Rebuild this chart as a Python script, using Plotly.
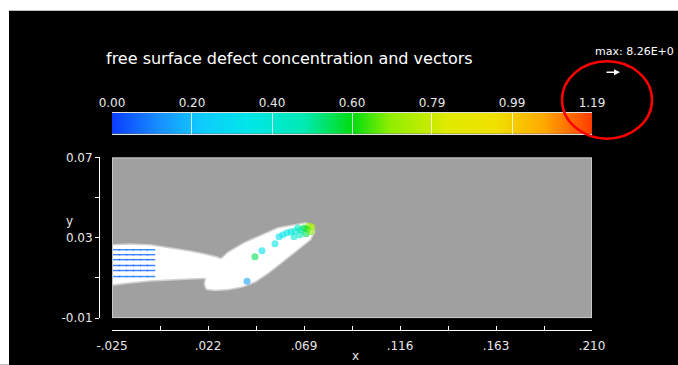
import numpy as np
import plotly.graph_objects as go

# ---------------- data ----------------
# colour scale / colorbar
cbar_min, cbar_max = 0.0, 1.19
cbar_tickvals = [0.0, 0.1983, 0.3967, 0.595, 0.7933, 0.9917, 1.19]
cbar_ticktext = ["0.00", "0.20", "0.40", "0.60", "0.79", "0.99", "1.19"]

# axes ticks
x_tickvals = [-0.025, -0.0015, 0.022, 0.0455, 0.069, 0.0925, 0.116, 0.1395, 0.163, 0.1865, 0.210]
x_ticktext = ["-.025", "", ".022", "", ".069", "", ".116", "", ".163", "", ".210"]
y_tickvals = [-0.01, 0.01, 0.03, 0.05, 0.07]
y_ticktext = ["-0.01", "", "0.03", "", "0.07"]

# free-surface fluid regions (outline polygons, data coords)
band_x = [-0.0250, -0.0162, -0.0064, 0.0034, 0.0132, 0.0205, 0.0264, 0.0303, 0.0318,
          0.0298, 0.0230, 0.0132, 0.0034, -0.0064, -0.0162, -0.0250]
band_y = [0.0261, 0.0265, 0.0261, 0.0246, 0.0231, 0.0216, 0.0201, 0.0181, 0.0147,
          0.0117, 0.0102, 0.0098, 0.0093, 0.0088, 0.0078, 0.0068]
leaf_x = [0.0205, 0.0215, 0.0254, 0.0318, 0.0401, 0.0484, 0.0563, 0.0646, 0.0695, 0.0729,
          0.0739, 0.0719, 0.0646, 0.0582, 0.0514, 0.0450, 0.0387, 0.0318, 0.0254, 0.0215]
leaf_y = [0.0068, 0.0117, 0.0162, 0.0224, 0.0274, 0.0313, 0.0346, 0.0361, 0.0371, 0.0361,
          0.0330, 0.0292, 0.0231, 0.0181, 0.0127, 0.0083, 0.0058, 0.0045, 0.0041, 0.0046]

# defect concentration points (x, y, value)
conc_x = [0.0729, 0.0714, 0.0705, 0.0690, 0.0675, 0.0660, 0.0646, 0.0626, 0.0607, 0.0587,
          0.0568, 0.0670, 0.0641, 0.0700, 0.0724, 0.0450, 0.0548, 0.0411, 0.0484]
conc_y = [0.0354, 0.0359, 0.0344, 0.0349, 0.0339, 0.0349, 0.0334, 0.0330, 0.0325, 0.0315,
          0.0305, 0.0315, 0.0305, 0.0320, 0.0330, 0.0206, 0.0270, 0.0083, 0.0236]
conc_v = [0.75, 0.70, 0.62, 0.58, 0.50, 0.45, 0.40, 0.38, 0.35, 0.33,
          0.32, 0.45, 0.40, 0.55, 0.68, 0.55, 0.35, 0.15, 0.30]

# velocity vectors at the inlet (columns x, rows y, concentration per row)
vec_cols = [-0.0230, -0.0196, -0.0162, -0.0128, -0.0093, -0.0059]
vec_rows = [0.0241, 0.0216, 0.0191, 0.0162, 0.0137, 0.0107]
vec_row_v = [0.08, 0.06, 0.06, 0.05, 0.06, 0.08]

colorscale = [
    [0.00, "#0a3cff"], [0.10, "#1890ff"], [0.18, "#10c8ff"], [0.28, "#00e6ea"],
    [0.40, "#00eab4"], [0.50, "#00dc10"], [0.58, "#90ee00"], [0.70, "#e0ea00"],
    [0.80, "#f0e000"], [0.90, "#ffa800"], [1.00, "#ff3a00"],
]

# ---------------- layout helpers (page pixel -> paper) ----------------
FIG_W, FIG_H = 678, 365
L, R, T, B = 99, 592, 95, 332  # paper region in page pixels
W, H = R - L, B - T
def px(xp):
    return (xp - L) / W
def py(yp):
    return (B - yp) / H

FONT = "DejaVu Sans"

fig = go.Figure()

# fluid regions
for xs, ys in [(band_x, band_y), (leaf_x, leaf_y)]:
    fig.add_trace(go.Scatter(
        x=xs + xs[:1], y=ys + ys[:1], mode="lines", fill="toself",
        fillcolor="white", line=dict(color="rgba(255,255,255,0.5)", width=3),
        hoverinfo="skip", showlegend=False, xaxis="x", yaxis="y"))

# vectors
vx, vy, vv = [], [], []
for r, rv in zip(vec_rows, vec_row_v):
    for c in vec_cols:
        vx.append(c); vy.append(r); vv.append(rv)
fig.add_trace(go.Scatter(
    x=vx, y=vy, mode="markers",
    marker=dict(symbol="line-ew-open", size=6, color=vv, colorscale=colorscale,
                cmin=cbar_min, cmax=cbar_max, opacity=0.8, line=dict(width=1.5)),
    hoverinfo="skip", showlegend=False, xaxis="x", yaxis="y"))

# concentration points
fig.add_trace(go.Scatter(
    x=conc_x, y=conc_y, mode="markers",
    marker=dict(size=7, color=conc_v, colorscale=colorscale,
                cmin=cbar_min, cmax=cbar_max, opacity=0.6, line=dict(width=0)),
    hoverinfo="skip", showlegend=False, xaxis="x", yaxis="y"))

# colour bar as heatmap
cbar_x = np.linspace(cbar_min, cbar_max, 240)
fig.add_trace(go.Heatmap(
    x=cbar_x, y=[0], z=[cbar_x], zmin=cbar_min, zmax=cbar_max,
    colorscale=colorscale, showscale=False, hoverinfo="skip",
    xaxis="x2", yaxis="y2"))

tickfont = dict(family=FONT, size=12, color="#e8e8e8")

fig.update_layout(
    width=FIG_W, height=FIG_H,
    margin=dict(l=L, r=FIG_W - R, t=T, b=FIG_H - B, pad=0),
    paper_bgcolor="black", plot_bgcolor="#a0a0a0",
    showlegend=False,
    xaxis=dict(domain=[px(112), 1], range=[-0.025, 0.210], anchor="free", position=0,
               tickvals=x_tickvals, ticktext=x_ticktext, ticks="inside", ticklen=4,
               tickcolor="white", showline=True, linecolor="white", linewidth=1,
               showgrid=False, zeroline=False, tickfont=tickfont, ticklabelstandoff=5),
    yaxis=dict(domain=[py(320), py(158)], range=[-0.01, 0.07], anchor="free", position=0,
               tickvals=y_tickvals, ticktext=y_ticktext, ticks="outside", ticklen=4,
               tickcolor="white", showline=True, linecolor="white", linewidth=1,
               showgrid=False, zeroline=False, tickfont=tickfont),
    xaxis2=dict(domain=[px(112), 1], range=[cbar_min, cbar_max], anchor="y2", side="top",
                tickvals=cbar_tickvals, ticktext=cbar_ticktext, ticks="inside",
                ticklen=21, tickcolor="rgba(255,255,255,0.8)", tickwidth=1,
                showline=True, mirror=True, linecolor="#dddddd", linewidth=1,
                showgrid=False, zeroline=False, tickfont=tickfont),
    yaxis2=dict(domain=[py(134), py(113)], range=[-0.5, 0.5], anchor="x2",
                visible=False),
)

shapes = [
    # light frame of the domain
    dict(type="rect", xref="x", yref="y", x0=-0.025, x1=0.210, y0=-0.01, y1=0.07,
         line=dict(color="#c8c8c8", width=2), layer="above"),
    # white outer border (left / top)
    dict(type="rect", xref="paper", yref="paper", x0=px(-2), x1=px(9), y0=py(367), y1=py(-2),
         fillcolor="white", line=dict(width=0)),
    dict(type="rect", xref="paper", yref="paper", x0=px(-2), x1=px(680), y0=py(10), y1=py(-2),
         fillcolor="white", line=dict(width=0)),
    # red highlight ellipse
    dict(type="circle", xref="paper", yref="paper", x0=px(562), x1=px(652),
         y0=py(139), y1=py(61), line=dict(color="#ff0000", width=2.5)),
]
fig.update_layout(shapes=shapes)

annotations = [
    dict(text="free surface defect concentration and vectors", xref="paper", yref="paper",
         x=px(104), y=py(58), xanchor="left", yanchor="middle", showarrow=False,
         font=dict(family=FONT, size=16, color="white")),
    dict(text="max: 8.26E+0", xref="paper", yref="paper",
         x=px(593), y=py(51), xanchor="left", yanchor="middle", showarrow=False,
         font=dict(family=FONT, size=11, color="white")),
    dict(text="", xref="paper", yref="paper", x=px(620), y=py(72), ax=-15, ay=0,
         showarrow=True, arrowhead=2, arrowsize=0.8, arrowwidth=1.5, arrowcolor="white"),
    dict(text="y", xref="paper", yref="paper", x=px(69), y=py(222), showarrow=False,
         xanchor="center", yanchor="middle", font=dict(family=FONT, size=12, color="#e8e8e8")),
    dict(text="x", xref="paper", yref="paper", x=px(355), y=py(358), showarrow=False,
         xanchor="center", yanchor="middle", font=dict(family=FONT, size=12, color="#e8e8e8")),
]
fig.update_layout(annotations=annotations)

fig.write_html(
    "out.html",
    config={"displayModeBar": False, "staticPlot": True},
    default_width=f"{FIG_W}px", default_height=f"{FIG_H}px",
    post_script="document.body.style.margin='0';document.documentElement.style.overflow='hidden';",
)
